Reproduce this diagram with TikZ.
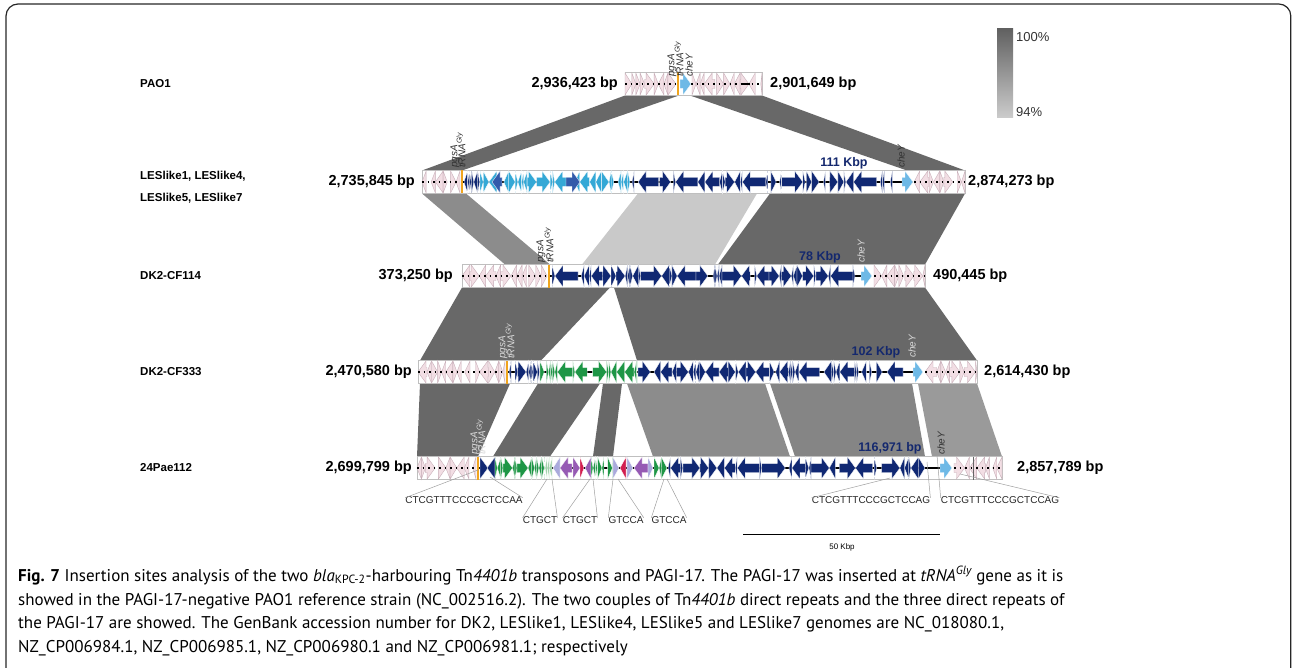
\documentclass[tikz,border=0pt]{standalone}
\usepackage{fontspec}
\setmainfont{Liberation Sans}
\newfontfamily\capfont{PT Sans}
\definecolor{navyg}{RGB}{16,40,115}
\definecolor{cyang}{RGB}{52,168,214}
\definecolor{midblue}{RGB}{50,90,170}
\definecolor{cheyc}{RGB}{110,185,230}
\definecolor{greeng}{RGB}{30,150,70}
\definecolor{palegreen}{RGB}{160,210,170}
\definecolor{lilac}{RGB}{170,170,220}
\definecolor{purpleg}{RGB}{150,90,180}
\definecolor{redg}{RGB}{210,30,80}
\definecolor{pinkg}{RGB}{242,222,228}
\definecolor{pinkedge}{RGB}{200,175,185}
\definecolor{orangeg}{RGB}{240,165,30}
\definecolor{kbp}{RGB}{20,40,110}
\definecolor{hdark}{RGB}{104,104,104}
\definecolor{hmid}{RGB}{140,140,140}
\definecolor{hmidb}{RGB}{133,133,133}
\definecolor{hlight}{RGB}{201,201,201}
\definecolor{hpale}{RGB}{154,154,154}

\newdimen\gxa
% one gene arrow: x1, x2, y, style, direction (1 right / 0 left)
\newcommand\gene[5]{%
  \ifnum#5=1
    \pgfmathsetmacro\gh{max(#1,#2-8)}%
    \path[#4] (#1,#3-4.5) -- (\gh,#3-4.5) -- (\gh,#3-11) -- (#2,#3) -- (\gh,#3+11) -- (\gh,#3+4.5) -- (#1,#3+4.5) -- cycle;
  \else
    \pgfmathsetmacro\gh{min(#2,#1+8)}%
    \path[#4] (#2,#3-4.5) -- (\gh,#3-4.5) -- (\gh,#3-11) -- (#1,#3) -- (\gh,#3+11) -- (\gh,#3+4.5) -- (#2,#3+4.5) -- cycle;
  \fi}
% a run of random genes: start, end, y, style, min width, max width
\newcommand\genes[6]{%
  \global\gxa=#1pt\relax
  \loop
    \pgfmathsetmacro\gs{\gxa}%
    \pgfmathsetmacro\gr{rnd}%
    \pgfmathsetmacro\gw{#5+\gr*\gr*\gr*(#6-#5)}%
    \pgfmathsetmacro\ge{min(\gs+\gw,#2)}%
    \pgfmathtruncatemacro\gd{rnd < 0.5 ? 0 : 1}%
    \gene{\gs}{\ge}{#3}{#4}{\gd}%
    \pgfmathsetmacro\gg{rnd < 0.15 ? 1+rnd*5 : 0}%
    \pgfmathsetmacro\gn{min(\ge+\gg,#2)}%
    \global\gxa=\gn pt\relax
  \ifdim\gxa<#2pt\repeat}

\tikzset{
 gnavy/.style={fill=navyg,draw=white,line width=0.3pt},
 gcyan/.style={fill=cyang,draw=white,line width=0.3pt},
 gmid/.style={fill=midblue,draw=white,line width=0.3pt},
 gchey/.style={fill=cheyc,draw=white,line width=0.3pt},
 ggreen/.style={fill=greeng,draw=white,line width=0.3pt},
 gpale/.style={fill=palegreen,draw=white,line width=0.3pt},
 glilac/.style={fill=lilac,draw=white,line width=0.3pt},
 gpurple/.style={fill=purpleg,draw=white,line width=0.3pt},
 gred/.style={fill=redg,draw=white,line width=0.3pt},
 gpink/.style={fill=pinkg,draw=pinkedge,line width=0.4pt},
 rowbox/.style={draw=black!25,fill=white,line width=0.5pt},
 backbone/.style={line width=2pt,black},
 dotbone/.style={line width=2.4pt,black,dash pattern=on 1.5pt off 4pt},
 trna/.style={fill=orangeg},
 bp/.style={font=\bfseries\fontsize{14.5}{16}\selectfont,inner sep=0pt},
 rowname/.style={font=\bfseries\fontsize{11.5}{22}\selectfont,inner sep=0pt,anchor=west,align=left},
 kb/.style={font=\bfseries\fontsize{12.5}{14}\selectfont,text=kbp,inner sep=0pt},
 glab/.style={font=\itshape\fontsize{10}{11}\selectfont,rotate=90,anchor=west,inner sep=0pt},
 dr/.style={font=\fontsize{10}{12}\selectfont,inner sep=0pt,text=black!85},
 drl/.style={gray!75,line width=0.5pt},
 legt/.style={font=\fontsize{13}{14}\selectfont,inner sep=0pt,anchor=west,text=black!80},
 captxt/.style={font=\capfont\fontsize{17}{20}\selectfont,inner sep=0pt,anchor=base west},
}

\begin{document}
\begin{tikzpicture}[x=1pt,y=-1pt]
\useasboundingbox (0,0) rectangle (1292,668);
\pgfmathsetseed{11}
% frame
\draw[line width=1.2pt,black!85,rounded corners=12pt] (6,668) -- (6,4) -- (1290.8,4) -- (1290.8,668);

% ---------- homology blocks ----------
\fill[hdark] (625,95.5) -- (679,95.5) -- (462,170.5) -- (422,170.5) -- cycle;
\fill[hdark] (690,95.5) -- (762,95.5) -- (965,170.5) -- (907,170.5) -- cycle;

\fill[hmid] (422,193.5) -- (466,193.5) -- (550,264.5) -- (505,264.5) -- cycle;
\fill[hlight] (638,193.5) -- (757,193.5) -- (715,264.5) -- (582,264.5) -- cycle;
\fill[hdark] (770,193.5) -- (965,193.5) -- (925,264.5) -- (718,264.5) -- cycle;

\fill[hdark] (462,287.5) -- (610,287.5) -- (541,360.5) -- (420,360.5) -- cycle;
\fill[hdark] (614,287.5) -- (925,287.5) -- (977,360.5) -- (637,360.5) -- cycle;

\fill[hdark] (420,383.5) -- (510,383.5) -- (478,456.5) -- (417,456.5) -- cycle;
\fill[hdark] (538,383.5) -- (600,383.5) -- (550,456.5) -- (493,456.5) -- cycle;
\fill[hdark] (603,383.5) -- (622,383.5) -- (613,456.5) -- (593,456.5) -- cycle;
\fill[hmid] (627,383.5) -- (765,383.5) -- (790,456.5) -- (653,456.5) -- cycle;
\fill[hmidb] (770,383.5) -- (912,383.5) -- (925,456.5) -- (795,456.5) -- cycle;
\fill[hpale] (918,383.5) -- (977,383.5) -- (1002,456.5) -- (932,456.5) -- cycle;

% ---------- PAO1 ----------
\draw[rowbox] (625,72.5) rectangle (762,95.5);
\genes{625}{676}{84}{gpink}{4}{14}
\genes{692}{762}{84}{gpink}{4}{14}
\draw[dotbone] (625,84) -- (762,84);
\draw[line width=2.4pt] (742,84) -- (750,84);
\fill[trna] (676.5,72.5) rectangle (678.5,95.5);
\gene{680}{691}{84}{gchey}{1}

% ---------- LESlike ----------
\draw[rowbox] (422,170.5) rectangle (965,193.5);
\genes{422}{460}{182}{gpink}{4}{12}
\genes{914}{965}{182}{gpink}{4}{12}
\draw[dotbone] (422,182) -- (460,182);
\draw[dotbone] (914,182) -- (965,182);
\draw[backbone] (462,182) -- (913,182);
\fill[trna] (461,170.5) rectangle (463,193.5);
\genes{464}{480}{182}{gnavy}{2}{10}
\genes{480}{630}{182}{gcyan}{2}{22}
\gene{492}{502}{182}{gmid}{0}
\gene{566}{580}{182}{gmid}{1}
\genes{632}{895}{182}{gnavy}{2}{24}
\gene{902}{913}{182}{gchey}{1}

% ---------- DK2-CF114 ----------
\draw[rowbox] (462,264.5) rectangle (925,287.5);
\genes{462}{547}{276}{gpink}{4}{12}
\genes{874}{925}{276}{gpink}{4}{12}
\draw[dotbone] (462,276) -- (547,276);
\draw[dotbone] (874,276) -- (925,276);
\draw[backbone] (550,276) -- (861,276);
\fill[trna] (548,264.5) rectangle (550,287.5);
\genes{552}{855}{276}{gnavy}{2}{24}
\gene{861}{872}{276}{gchey}{1}

% ---------- DK2-CF333 ----------
\draw[rowbox] (418,360.5) rectangle (977,383.5);
\genes{418}{505}{372}{gpink}{4}{12}
\genes{925}{977}{372}{gpink}{4}{12}
\draw[dotbone] (418,372) -- (505,372);
\draw[dotbone] (925,372) -- (977,372);
\draw[backbone] (508,372) -- (913,372);
\fill[trna] (506,360.5) rectangle (508,383.5);
\genes{509}{540}{372}{gnavy}{2}{12}
\genes{540}{637}{372}{ggreen}{2}{16}
\genes{638}{903}{372}{gnavy}{2}{24}
\gene{913}{923}{372}{gchey}{1}

% ---------- 24Pae112 ----------
\draw[rowbox] (417,456.5) rectangle (1002,479.5);
\genes{417}{476}{468}{gpink}{4}{12}
\genes{954}{1002}{468}{gpink}{4}{12}
\draw[dotbone] (417,468) -- (476,468);
\draw[dotbone] (954,468) -- (1002,468);
\draw[backbone] (479,468) -- (940,468);
\fill[trna] (477,456.5) rectangle (479,479.5);
\gene{480}{488}{468}{gnavy}{1}
\gene{487}{495}{468}{gnavy}{0}
\genes{495}{545}{468}{ggreen}{2}{14}
\genes{545}{552}{468}{gpale}{2}{4}
\gene{553}{560}{468}{glilac}{0}
\gene{560}{572}{468}{gpurple}{0}
\gene{573}{580}{468}{gpurple}{1}
\gene{580}{584}{468}{gred}{1}
\gene{585}{591}{468}{gpurple}{0}
\genes{591}{613}{468}{ggreen}{2}{8}
\gene{613}{619}{468}{glilac}{1}
\gene{620}{626}{468}{gred}{0}
\gene{627}{633}{468}{glilac}{1}
\gene{634}{648}{468}{gpurple}{0}
\gene{648}{653}{468}{glilac}{1}
\genes{654}{667}{468}{ggreen}{2}{8}
\genes{668}{925}{468}{gnavy}{2}{24}
\gene{940}{952}{468}{gchey}{1}
\draw[black!60,line width=0.6pt] (973,456.5) -- (973,479.5);

% ---------- gene labels ----------
\node[glab,text=black!80] (p0) at (672,77) {pgsA};
\node[glab,text=black!80] (t0) at (679,77) {tRNA\textsuperscript{Gly}};
\node[glab,text=black!80] (c0) at (689,77) {cheY};
\node[glab,text=black!80] (p1) at (455,168) {pgsA};
\node[glab,text=black!80] (t1) at (461,168) {tRNA\textsuperscript{Gly}};
\node[glab,text=black!80] (c1) at (901,168) {cheY};
\node[glab,text=black!80] (p2) at (541,263) {pgsA};
\node[glab,text=black!80] (t2) at (549,263) {tRNA\textsuperscript{Gly}};
\node[glab,text=black!15] (c2) at (861,263) {cheY};
\node[glab,text=black!15] (p3) at (503,359) {pgsA};
\node[glab,text=black!15] (t3) at (510,359) {tRNA\textsuperscript{Gly}};
\node[glab,text=black!15] (c3) at (912,358) {cheY};
\node[glab,text=black!15] (p4) at (475,455) {pgsA};
\node[glab,text=black!15] (t4) at (481,455) {tRNA\textsuperscript{Gly}};
\node[glab,text=black!80] (c4) at (941,455) {cheY};

% ---------- size labels ----------
\node[kb] (k1) at (844,163) {111 Kbp};
\node[kb] (k2) at (820,257) {78 Kbp};
\node[kb] (k3) at (876,352) {102 Kbp};
\node[kb] (k4) at (890,448) {116,971 bp};

% ---------- coordinates ----------
\node[bp,anchor=east] (l0) at (618,84) {2,936,423 bp};
\node[bp,anchor=west] (r0) at (770,84) {2,901,649 bp};
\node[bp,anchor=east] (l1) at (415,182) {2,735,845 bp};
\node[bp,anchor=west] (r1) at (968,182) {2,874,273 bp};
\node[bp,anchor=east] (l2) at (453,276) {373,250 bp};
\node[bp,anchor=west] (r2) at (933,276) {490,445 bp};
\node[bp,anchor=east] (l3) at (412,372) {2,470,580 bp};
\node[bp,anchor=west] (r3) at (984,372) {2,614,430 bp};
\node[bp,anchor=east] (l4) at (412,468) {2,699,799 bp};
\node[bp,anchor=west] (r4) at (1017,468) {2,857,789 bp};

% ---------- row names ----------
\node[rowname] (nPAO) at (140,84) {PAO1};
\node[rowname] (nLES) at (140,187) {LESlike1, LESlike4,\\LESlike5, LESlike7};
\node[rowname] (n114) at (140,276) {DK2-CF114};
\node[rowname] (n333) at (140,372) {DK2-CF333};
\node[rowname] (nPae) at (140,468) {24Pae112};

% ---------- direct repeats ----------
\node[dr] (drA) at (464,500) {CTCGTTTCCCGCTCCAA};
\node[dr] (drB) at (540,520) {CTGCT};
\node[dr] (drC) at (580,520) {CTGCT};
\node[dr] (drD) at (626,520) {GTCCA};
\node[dr] (drE) at (669,520) {GTCCA};
\node[dr] (drF) at (871,500) {CTCGTTTCCCGCTCCAG};
\node[dr] (drG) at (1000,500) {CTCGTTTCCCGCTCCAG};
\coordinate (a1) at (478,470); \coordinate (a2) at (490,477);
\coordinate (b1) at (547,479); \coordinate (b2) at (552,479);
\coordinate (cc1) at (590,479); \coordinate (cc2) at (593,479);
\coordinate (d1) at (613,479); \coordinate (d2) at (618,479);
\coordinate (e1) at (664,479); \coordinate (e2) at (667,479);
\coordinate (f1) at (890,478); \coordinate (f2) at (927,462);
\coordinate (g1) at (937,455); \coordinate (g2) at (960,474);
\draw[drl] (a1) -- ([yshift=-1.5pt]drA.north west);
\draw[drl] (a2) -- ([yshift=-1.5pt]drA.north east);
\draw[drl] (b1) -- ([yshift=-1.5pt]drB.north west);
\draw[drl] (b2) -- ([yshift=-1.5pt]drB.north east);
\draw[drl] (cc1) -- ([yshift=-1.5pt]drC.north west);
\draw[drl] (cc2) -- ([yshift=-1.5pt]drC.north east);
\draw[drl] (d1) -- ([yshift=-1.5pt]drD.north west);
\draw[drl] (d2) -- ([yshift=-1.5pt]drD.north east);
\draw[drl] (e1) -- ([yshift=-1.5pt]drE.north west);
\draw[drl] (e2) -- ([yshift=-1.5pt]drE.north east);
\draw[drl] (f1) -- ([yshift=-1.5pt]drF.north west);
\draw[drl] (f2) -- ([yshift=-1.5pt]drF.north east);
\draw[drl] (g1) -- ([yshift=-1.5pt]drG.north west);
\draw[drl] (g2) -- ([yshift=-1.5pt]drG.north east);

% ---------- scale bar ----------
\coordinate (sbL) at (743,534); \coordinate (sbR) at (940,534);
\draw[line width=1pt] (sbL) -- (sbR);
\node[font=\fontsize{8}{9}\selectfont,inner sep=0pt] (sb) at (842,547) {50 Kbp};

% ---------- legend ----------
\shade[top color=black!62,bottom color=black!20] (997,29) rectangle (1013,118);
\node[legt] (l100) at (1016,37) {100\%};
\node[legt] (l94) at (1016,112) {94\%};

% ---------- caption ----------
\node[captxt] (cap1) at (18,581) {\textbf{Fig. 7} Insertion sites analysis of the two \textit{bla}\textsubscript{KPC-2}-harbouring Tn\textit{4401b} transposons and PAGI-17. The PAGI-17 was inserted at \textit{tRNA\textsuperscript{Gly}} gene as it is};
\node[captxt] (cap2) at (18,605) {showed in the PAGI-17-negative PAO1 reference strain (NC\_002516.2). The two couples of Tn\textit{4401b} direct repeats and the three direct repeats of};
\node[captxt] (cap3) at (18,628) {the PAGI-17 are showed. The GenBank accession number for DK2, LESlike1, LESlike4, LESlike5 and LESlike7 genomes are NC\_018080.1,};
\node[captxt] (cap4) at (18,652) {NZ\_CP006984.1, NZ\_CP006985.1, NZ\_CP006980.1 and NZ\_CP006981.1; respectively};
\end{tikzpicture}
\end{document}
